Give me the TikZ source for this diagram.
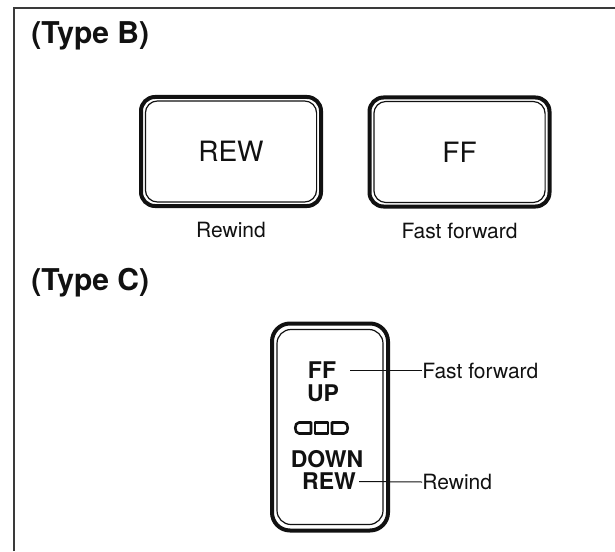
\documentclass[tikz,border=0pt]{standalone}
\usepackage{fontspec}
\setmainfont{TeX Gyre Heros}
\usetikzlibrary{positioning}
\definecolor{tinta}{HTML}{111111}
\definecolor{marco}{HTML}{3A3A3A}
\colorlet{colTexto}{tinta}
\colorlet{colMarco}{marco}
\tikzset{
  teclaBase/.style={
    draw=colTexto, line width=2pt, rounded corners=7pt,
    align=center, text=colTexto, inner sep=0pt
  },
  teclaB/.style={teclaBase, minimum width=90pt, minimum height=54.5pt,
    font=\fontsize{14}{16}\selectfont},
  teclaC/.style={teclaBase, minimum width=58pt, minimum height=103.5pt,
    rounded corners=9pt},
  bordeInterior/.style={draw=colTexto, line width=0.6pt, rounded corners=6pt},
  tituloTipo/.style={font=\bfseries\fontsize{15}{18}\selectfont, text=colTexto,
    anchor=west, inner sep=0pt},
  rotuloTecla/.style={font=\bfseries\fontsize{11.5}{13}\selectfont, text=colTexto,
    inner sep=0pt},
  etiqueta/.style={font=\fontsize{10.5}{12}\selectfont, text=colTexto, inner sep=0pt},
  lineaGuia/.style={draw=colTexto, line width=0.5pt},
  piloto/.style={draw=colTexto, line width=1.3pt, line join=round},
}
\begin{document}
\begin{tikzpicture}[x=0.5pt, y=-0.5pt]
    \useasboundingbox (0,0) rectangle (615,551);
    % marco de la figura
    \draw[colMarco, line width=0.8pt] (14,551) -- (14,8) -- (615,8);

    % (Type B)
    \node[tituloTipo] (tipoB) at (31,36) {(Type B)};
    \node[teclaB] (btnRew) at (231,151.5) {REW};
    \node[teclaB] (btnFf) at (459.5,152) {FF};
    \foreach \b in {btnRew, btnFf}
      \draw[bordeInterior] ([shift={(3.2pt,-3pt)}]\b.north west)
        rectangle ([shift={(-3.2pt,3pt)}]\b.south east);
    \node[etiqueta, below=7pt of btnRew] (lblRew) {Rewind};
    \node[etiqueta, below=7pt of btnFf] (lblFf) {Fast forward};

    % (Type C)
    \node[tituloTipo] (tipoC) at (31,283) {(Type C)};
    \node[teclaC] (balancin) at (330,427) {};
    \draw[bordeInterior, rounded corners=7pt]
      ([shift={(3.5pt,-4pt)}]balancin.north west)
      rectangle ([shift={(-3.5pt,4pt)}]balancin.south east);
    \node[rotuloTecla] (cFf) at (322,370.5) {FF};
    \node[rotuloTecla] (cUp) at (323,393) {UP};
    \node[rotuloTecla] (cDown) at (327,459) {DOWN};
    \node[rotuloTecla] (cRew) at (329,481.5) {REW};
    % pilotos
    \draw[piloto] (299,422.5) -- (311,422.5) -- (311,433.5) -- (299,433.5)
      .. controls (294,433.5) and (294,422.5) .. (299,422.5) -- cycle;
    \draw[piloto] (315,422.5) rectangle (328,433.5);
    \draw[piloto] (332,422.5) -- (344,422.5)
      .. controls (349,422.5) and (349,433.5) .. (344,433.5)
      -- (332,433.5) -- cycle;
    % rotulos con linea guia
    \node[etiqueta, anchor=west] (lblCFf) at (422,370.5) {Fast forward};
    \node[etiqueta, anchor=west] (lblCRew) at (422,482) {Rewind};
    \draw[lineaGuia] ([xshift=7pt]cFf.east) -- (lblCFf.west);
    \draw[lineaGuia] ([xshift=1.5pt]cRew.east) -- (lblCRew.west);
  \end{tikzpicture}
\end{document}
